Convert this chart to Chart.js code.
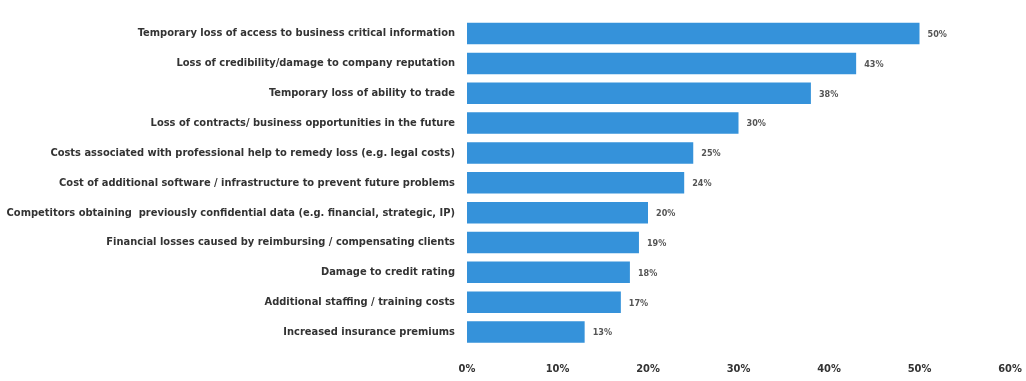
<!DOCTYPE html>
<html>
<head>
<meta charset="utf-8">
<script src="https://cdn.jsdelivr.net/npm/chart.js@4.4.0/dist/chart.umd.min.js"></script>
<style>
  html, body { margin: 0; padding: 0; background: #fff; }
  #wrap { width: 1026px; height: 381px; }
</style>
</head>
<body>
<div id="wrap"><canvas id="chart-impact"></canvas></div>
<script>
// impacto de perdida de datos - barras horizontales
const categories = [
    'Temporary loss of access to business critical information',
    'Loss of credibility/damage to company reputation',
    'Temporary loss of ability to trade',
    'Loss of contracts/ business opportunities in the future',
    'Costs associated with professional help to remedy loss (e.g. legal costs)',
    'Cost of additional software / infrastructure to prevent future problems',
    'Competitors obtaining  previously confidential data (e.g. financial, strategic, IP)',
    'Financial losses caused by reimbursing / compensating clients',
    'Damage to credit rating',
    'Additional staffing / training costs',
    'Increased insurance premiums'
];
const values = [50, 43, 38, 30, 25, 24, 20, 19, 18, 17, 13];
const xTicks = [0, 10, 20, 30, 40, 50, 60];

const barColor = '#3592da';
const textColor = '#333333';
const fontFamily = '"DejaVu Sans Condensed", "Liberation Sans Narrow", sans-serif';

// etiquetas de valor al final de cada barra
const valueLabels = {
    id: 'valueLabels',
    afterDatasetsDraw(chart) {
        const ctx = chart.ctx;
        const meta = chart.getDatasetMeta(0);
        ctx.save();
        ctx.font = 'bold 9px ' + fontFamily;
        ctx.fillStyle = '#555555';
        ctx.textAlign = 'left';
        ctx.textBaseline = 'middle';
        meta.data.forEach((bar, i) => {
            ctx.fillText(values[i] + '%', bar.x + 8, bar.y + 1);
        });
        ctx.restore();
    }
};

new Chart(document.getElementById('chart-impact').getContext('2d'), {
    type: 'bar',
    data: {
        labels: categories,
        datasets: [{
            data: values,
            backgroundColor: barColor,
            borderWidth: 0,
            barPercentage: 0.72,
            categoryPercentage: 1
        }]
    },
    options: {
        indexAxis: 'y',
        responsive: true,
        maintainAspectRatio: false,
        animation: false,
        layout: { padding: { top: 12, right: 0, left: 0, bottom: 0 } },
        plugins: {
            legend: { display: false },
            tooltip: { enabled: false }
        },
        scales: {
            x: {
                min: 0,
                max: 60,
                afterBuildTicks: s => { s.ticks = xTicks.map(v => ({ value: v })); },
                afterFit: s => { s.height = 34; s.paddingRight = 16; s.paddingLeft = 0; },
                grid: { display: false, drawTicks: false },
                border: { display: false },
                ticks: {
                    padding: 16,
                    color: textColor,
                    font: { family: fontFamily, size: 11, weight: 'bold' },
                    callback: v => v + '%'
                }
            },
            y: {
                afterFit: s => { s.width = 467; },
                grid: { display: false, drawTicks: false },
                border: { display: false },
                ticks: {
                    padding: 12,
                    color: textColor,
                    autoSkip: false,
                    font: { family: fontFamily, size: 11, weight: 'bold' }
                }
            }
        }
    },
    plugins: [valueLabels]
});
</script>
</body>
</html>
